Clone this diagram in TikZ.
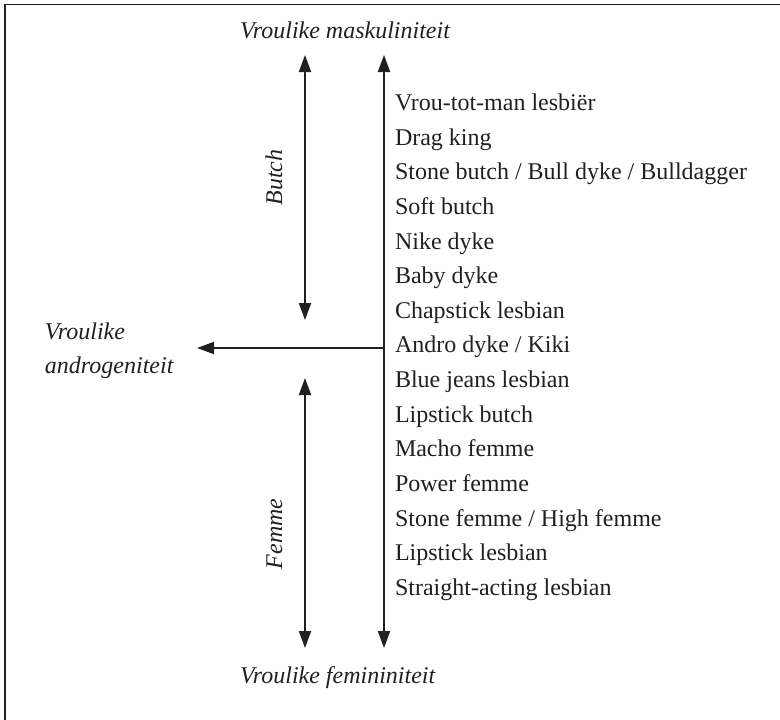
\documentclass[tikz,border=0pt]{standalone}
\usepackage{fontspec}
\setmainfont{Liberation Serif}
\usetikzlibrary{arrows.meta}
\definecolor{ink}{RGB}{35,31,32}
\begin{document}
\begin{tikzpicture}[x=1pt,y=-1pt,
  every node/.style={inner sep=0pt, outer sep=0pt, text=ink, font=\fontsize{24}{34}\selectfont},
  itl/.style={font=\fontsize{24}{34}\selectfont\itshape},
  item/.style={anchor=base west},
  axis/.style={draw=ink, line width=2pt, -{Triangle[length=17pt,width=12pt]}},
  daxis/.style={draw=ink, line width=2pt, {Triangle[length=17pt,width=12pt]}-{Triangle[length=17pt,width=12pt]}},
  frame/.style={draw=ink, line width=1.5pt}]
\useasboundingbox (0,0) rectangle (780,720);
% frame (open at right and bottom, as cropped)
\coordinate (fbl) at (5,721);
\coordinate (ftl) at (5,4.5);
\coordinate (ftr) at (781,4.5);
\draw[frame] (fbl) -- (ftl) -- (ftr);

% axis end points
\coordinate (rt) at (384,55);
\coordinate (rb) at (384,648);
\coordinate (bt) at (305,55);
\coordinate (bb) at (305,320);
\coordinate (ft) at (305,378);
\coordinate (fb) at (305,648);
\coordinate (hs) at (384,348);
\coordinate (he) at (197,348);

\draw[daxis] (rt) -- (rb);
\draw[daxis] (bt) -- (bb);
\draw[daxis] (ft) -- (fb);
\draw[axis] (hs) -- (he);

% axis labels
\node[itl, anchor=base west] (masc) at (240,38) {Vroulike maskuliniteit};
\node[itl, anchor=base west] (fem) at (240,683) {Vroulike femininiteit};
\node[itl, anchor=north west, align=left] (andro) at (45,322.5) {Vroulike\\androgeniteit};
\node[itl, rotate=90, anchor=base] (butch) at (282,177.5) {Butch};
\node[itl, rotate=90, anchor=base] (femme) at (282,534) {Femme};

% list
\foreach \t [count=\i from 0] in {Vrou-tot-man lesbiër, Drag king, Stone butch / Bull dyke / Bulldagger, Soft butch, Nike dyke, Baby dyke, Chapstick lesbian, Andro dyke / Kiki, Blue jeans lesbian, Lipstick butch, Macho femme, Power femme, Stone femme / High femme, Lipstick lesbian, Straight-acting lesbian}
  \node[item] (l\i) at (395,110.5+34.64*\i) {\t};
\end{tikzpicture}
\end{document}
